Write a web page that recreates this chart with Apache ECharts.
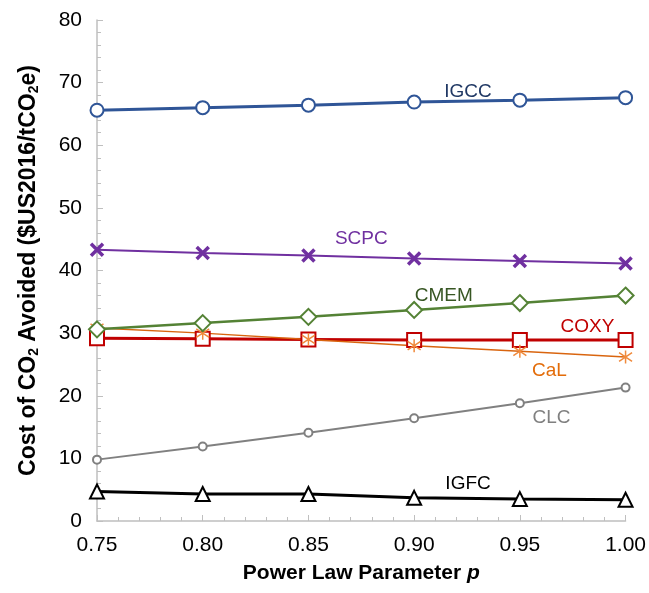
<!DOCTYPE html>
<html>
<head>
<meta charset="utf-8">
<script src="https://cdn.jsdelivr.net/npm/echarts@6/dist/echarts.min.js"></script>
<style>
  html, body { margin: 0; padding: 0; background: #fff; }
  #chart { width: 649px; height: 593px; }
</style>
</head>
<body>
<div id="chart"></div>
<script>
// power law parameter p
const pValues = [0.75, 0.80, 0.85, 0.90, 0.95, 1.00];

// cost of CO2 avoided, $US2016/tCO2e
const igcc = [65.6, 66.0, 66.4, 66.9, 67.2, 67.6];
const scpc = [43.3, 42.8, 42.4, 41.9, 41.5, 41.1];
const cmem = [30.6, 31.6, 32.6, 33.7, 34.8, 36.0];
const coxy = [29.2, 29.1, 29.0, 28.9, 28.9, 28.9];
const cal  = [30.8, 30.0, 29.0, 28.0, 27.1, 26.2];
const clc  = [9.8, 11.9, 14.1, 16.4, 18.8, 21.3];
const igfc = [4.7, 4.3, 4.3, 3.7, 3.5, 3.4];

// where each series name is written (data coords)
const labelAt = {
    IGCC: [0.9255, 68.6],
    SCPC: [0.875, 45.0],
    CMEM: [0.914, 36.0],
    COXY: [0.982, 31.0],
    CaL:  [0.964, 24.0],
    CLC:  [0.965, 16.5],
    IGFC: [0.9255, 5.9]
};

const FONT = '"Liberation Sans", Arial, sans-serif';
const X_MARK = 'path://M0,0L10,10M10,0L0,10';
const STAR_MARK = 'path://M0,1L10,9M10,1L0,9M5,-1L5,11';

const chart = echarts.init(document.getElementById('chart'));

function pairs(vals) {
    return pValues.map((p, i) => [p, vals[i]]);
}

function makeSeries(name, vals, color, textColor, lineWidth, symbol, symbolSize, border, markColor) {
    return {
        name: name,
        type: 'line',
        data: pairs(vals),
        symbol: symbol,
        symbolSize: symbolSize,
        showAllSymbol: true,
        lineStyle: { color: color, width: lineWidth },
        itemStyle: { color: markColor || color, borderColor: markColor || color, borderWidth: border },
        emphasis: { disabled: true },
        markPoint: {
            silent: true,
            symbol: 'circle',
            symbolSize: 0,
            label: {
                show: true,
                position: 'inside',
                formatter: name,
                color: textColor,
                fontFamily: FONT,
                fontSize: 19
            },
            data: [{ coord: labelAt[name] }]
        }
    };
}

const option = {
    animation: false,
    backgroundColor: '#fff',
    grid: { left: 97, right: 22, top: 20, bottom: 72 },
    xAxis: {
        type: 'value',
        min: 0.75,
        max: 1.0,
        interval: 0.05,
        name: 'Power Law Parameter {i|p}',
        nameLocation: 'middle',
        nameGap: 42,
        nameTextStyle: {
            fontFamily: FONT, fontSize: 21, fontWeight: 'bold', color: '#000',
            rich: { i: { fontFamily: FONT, fontSize: 21, fontWeight: 'bold', fontStyle: 'italic', color: '#000' } }
        },
        axisLine: { lineStyle: { color: '#bfbfbf', width: 1.5 } },
        axisTick: { inside: true, length: 6, lineStyle: { color: '#bfbfbf' } },
        minorTick: { show: true, splitNumber: 5, length: 4, lineStyle: { color: '#bfbfbf' } },
        splitLine: { show: false },
        axisLabel: {
            formatter: v => v.toFixed(2),
            fontFamily: FONT, fontSize: 21, color: '#000', margin: 14
        }
    },
    yAxis: {
        type: 'value',
        min: 0,
        max: 80,
        interval: 10,
        name: 'Cost of CO{s|2} Avoided ($US2016/tCO{s|2}e)',
        nameLocation: 'middle',
        nameGap: 56,
        nameTextStyle: {
            fontFamily: FONT, fontSize: 23, fontWeight: 'bold', color: '#000',
            rich: { s: { fontFamily: FONT, fontSize: 14, fontWeight: 'bold', color: '#000', padding: [10, 0, 0, 0] } }
        },
        axisLine: { show: true, lineStyle: { color: '#bfbfbf', width: 1.5 } },
        axisTick: { show: true, inside: true, length: 6, lineStyle: { color: '#bfbfbf' } },
        minorTick: { show: true, splitNumber: 5, length: 4, lineStyle: { color: '#bfbfbf' } },
        splitLine: { show: false },
        axisLabel: { fontFamily: FONT, fontSize: 21, color: '#000', margin: 15 }
    },
    series: [
        makeSeries('CLC', clc, '#808080', '#808080', 2, 'emptyCircle', 8, 2),
        makeSeries('IGFC', igfc, '#000000', '#000000', 3, 'emptyTriangle', 14, 3),
        makeSeries('COXY', coxy, '#c00000', '#c00000', 3, 'emptyRect', 14, 3.5),
        makeSeries('CaL', cal, '#d9650f', '#e36c09', 1.5, STAR_MARK, 13, 1.5, '#f08a3c'),
        makeSeries('CMEM', cmem, '#548235', '#375623', 2.5, 'emptyDiamond', 16, 3),
        makeSeries('SCPC', scpc, '#7030a0', '#7030a0', 2, X_MARK, 12, 3.5),
        makeSeries('IGCC', igcc, '#2f5597', '#203864', 3, 'emptyCircle', 13, 3.5)
    ]
};

chart.setOption(option);
</script>
</body>
</html>
